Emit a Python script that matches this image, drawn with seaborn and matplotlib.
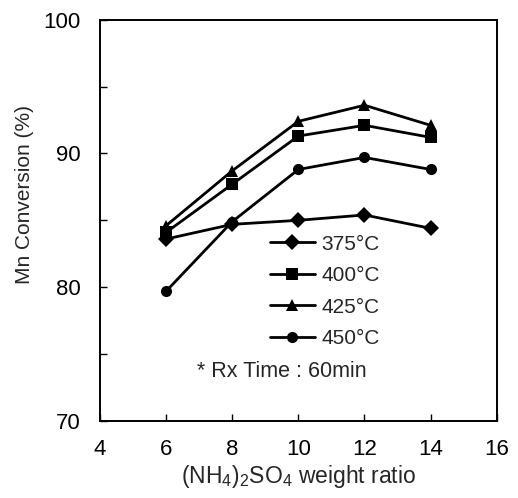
import matplotlib
matplotlib.use("Agg")
import matplotlib.pyplot as plt
from matplotlib.ticker import MultipleLocator
import seaborn as sns
import pandas as pd

ratio = [6, 8, 10, 12, 14]
conv_375 = [83.6, 84.7, 85.0, 85.4, 84.4]
conv_400 = [84.1, 87.7, 91.3, 92.1, 91.2]
conv_425 = [84.6, 88.7, 92.4, 93.6, 92.1]
conv_450 = [79.7, 84.9, 88.8, 89.7, 88.8]
temps = ["375\u00b0C", "400\u00b0C", "425\u00b0C", "450\u00b0C"]
series = [conv_375, conv_400, conv_425, conv_450]
note = "* Rx Time : 60min"

rows = []
for t, vals in zip(temps, series):
    for x, y in zip(ratio, vals):
        rows.append({"ratio": x, "conv": y, "temp": t})
df = pd.DataFrame(rows)

sns.set_theme(style="ticks")
plt.rcParams["font.family"] = ["Liberation Sans", "DejaVu Sans"]
plt.rcParams["mathtext.default"] = "regular"

fig = plt.figure(figsize=(5.18, 4.98), dpi=100)
ax = fig.add_axes([0.193, 0.1546, 0.766, 0.806])

markers = dict(zip(temps, ["D", "s", "^", "o"]))
palette = dict(zip(temps, ["black"] * 4))
sns.lineplot(data=df, x="ratio", y="conv", hue="temp", style="temp",
             markers=markers, dashes=False, palette=palette, ax=ax,
             linewidth=2, markersize=8, markeredgewidth=0)

ax.set_xlim(4, 16)
ax.set_ylim(70, 100)
ax.xaxis.set_major_locator(MultipleLocator(2))
ax.yaxis.set_major_locator(MultipleLocator(10))
ax.yaxis.set_minor_locator(MultipleLocator(5))
ax.tick_params(axis="both", which="both", direction="in", length=5, width=1,
               labelsize=16, colors="black")
ax.tick_params(axis="x", pad=13)
ax.tick_params(axis="y", pad=14)
for s in ax.spines.values():
    s.set_linewidth(1.4)
    s.set_color("black")

ax.set_xlabel("(NH$_4$)$_2$SO$_4$ weight ratio", fontsize=16.5)
ax.set_ylabel("Mn Conversion (%)", fontsize=15)
ax.xaxis.set_label_coords(0.5, -0.105)
ax.yaxis.set_label_coords(-0.167, 0.565)

leg = ax.legend(loc="upper left", bbox_to_anchor=(0.38, 0.511), frameon=False,
                fontsize=15, handlelength=2.2, labelspacing=0.6,
                handletextpad=0.3)
for h in leg.legend_handles:
    h.set_markersize(8)
    h.set_linewidth(2)

ax.text(9.5, 73.7, note, fontsize=15.5, ha="center", va="center")

fig.savefig("out.png", dpi=100, facecolor="white")
